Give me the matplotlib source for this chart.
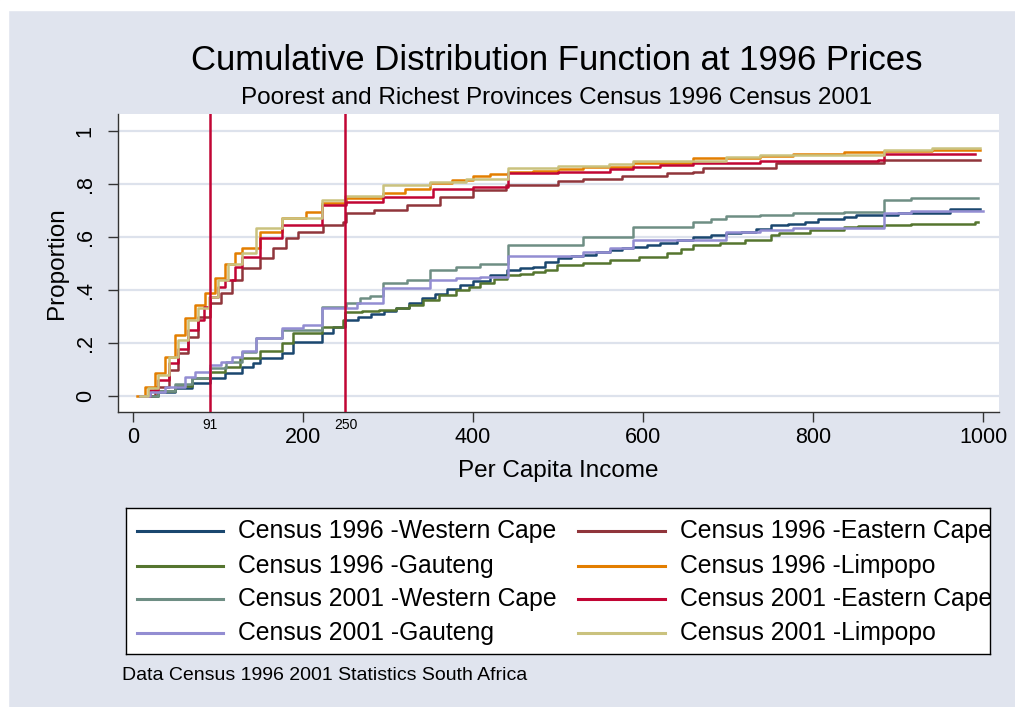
#!/usr/bin/env python3
"""
Cumulative distribution of per capita income (1996 prices),
poorest and richest provinces, census 1996 vs census 2001.
Writes out.png
"""

import matplotlib
matplotlib.use("Agg")
import matplotlib.pyplot as plt
import matplotlib.transforms as mtransforms
from matplotlib.patches import Rectangle

# step points (income, proportion)
wc96_x = [10, 30, 50, 70, 91, 108, 128, 141, 149, 175, 188, 222, 235, 250, 265, 280, 295, 310, 325, 340,
          355, 370, 385, 400, 420, 440, 455, 471, 485, 500, 515, 529, 545, 561, 575, 588, 605, 620, 640,
          659, 680, 698, 715, 733, 751, 770, 790, 806, 836, 850, 900, 961, 996]
wc96_y = [0, .015, .03, .05, .068, .087, .111, .124, .144, .163, .205, .237, .262, .287, .298, .31, .322, .333, .35, .37,
          .385, .405, .42, .435, .455, .476, .482, .488, .505, .52, .527, .532, .542, .551, .557, .563, .57, .576, .59,
          .601, .607, .614, .62, .629, .645, .65, .657, .666, .674, .683, .69, .704, .704]

ec96_x = [8, 26, 42, 53, 65, 77, 91, 104, 116, 128, 149, 165, 180, 194, 224, 247, 251, 283, 322, 361,
          400, 439, 500, 529, 575, 628, 659, 671, 757, 883, 996]
ec96_y = [0, .036, .099, .162, .224, .30, .35, .388, .438, .482, .52, .557, .595, .62, .645, .657, .689, .701, .72, .752,
          .777, .796, .812, .82, .83, .842, .846, .858, .877, .889, .889]

g96_x = [10, 30, 50, 70, 91, 108, 126, 150, 175, 188, 222, 247, 250, 270, 290, 310, 325, 341, 360, 380,
         395, 408, 425, 440, 455, 471, 485, 499, 530, 561, 595, 628, 645, 659, 690, 720, 751, 760, 796,
         836, 853, 883, 915, 990, 994]
g96_y = [0, .02, .04, .07, .093, .111, .144, .17, .2, .237, .262, .287, .318, .32, .325, .332, .345, .363, .38, .40,
         .41, .425, .44, .457, .462, .469, .475, .494, .503, .513, .526, .538, .555, .57, .578, .59, .607, .616, .626,
         .636, .641, .645, .649, .655, .655]

l96_x = [5, 14, 26, 38, 49, 61, 73, 85, 96, 108, 120, 128, 149, 175, 204, 222, 251, 294, 320, 349,
         375, 400, 420, 441, 471, 500, 529, 588, 659, 738, 777, 836, 883, 940, 996]
l96_y = [0, .036, .087, .149, .231, .294, .344, .388, .444, .50, .538, .557, .62, .67, .695, .727, .745, .764, .78, .802,
         .815, .83, .838, .846, .849, .855, .862, .877, .896, .905, .912, .921, .925, .927, .927]

wc01_x = [8, 30, 50, 70, 91, 110, 128, 145, 175, 222, 251, 267, 279, 294, 322, 349, 380, 408, 441,
          529, 588, 659, 680, 698, 738, 777, 836, 883, 915, 994]
wc01_y = [0, .02, .045, .07, .105, .13, .168, .218, .25, .337, .35, .369, .378, .425, .438, .476, .488, .498, .57,
          .601, .636, .657, .666, .679, .683, .689, .695, .739, .745, .745]

ec01_x = [8, 20, 30, 42, 53, 65, 77, 84, 91, 100, 108, 120, 128, 149, 175, 222, 251, 294, 353, 400,
          441, 500, 561, 588, 620, 659, 738, 876, 883, 990]
ec01_y = [0, .024, .061, .124, .18, .25, .287, .337, .375, .413, .438, .488, .526, .595, .645, .72, .733, .752, .779, .79,
          .84, .846, .855, .864, .871, .877, .886, .89, .911, .911]

g01_x = [8, 20, 38, 61, 73, 91, 104, 116, 128, 145, 175, 200, 222, 263, 294, 349, 380, 408, 441,
         529, 561, 588, 698, 738, 777, 883, 915, 1000]
g01_y = [0, .015, .036, .074, .093, .118, .13, .149, .17, .218, .257, .27, .331, .35, .407, .438, .444, .45, .53,
         .544, .557, .589, .62, .626, .632, .689, .699, .699]

l01_x = [8, 18, 30, 42, 53, 65, 77, 89, 100, 112, 128, 145, 175, 222, 250, 294, 349, 392, 441,
         500, 560, 588, 698, 738, 883, 940, 996]
l01_y = [0, .03, .08, .149, .212, .287, .331, .375, .438, .50, .538, .632, .67, .739, .754, .796, .808, .817, .858,
         .867, .875, .887, .902, .908, .927, .934, .934]

series_names = ["Census 1996 -Western Cape", "Census 1996 -Eastern Cape",
                "Census 1996 -Gauteng", "Census 1996 -Limpopo",
                "Census 2001 -Western Cape", "Census 2001 -Eastern Cape",
                "Census 2001 -Gauteng", "Census 2001 -Limpopo"]
series_x = [wc96_x, ec96_x, g96_x, l96_x, wc01_x, ec01_x, g01_x, l01_x]
series_y = [wc96_y, ec96_y, g96_y, l96_y, wc01_y, ec01_y, g01_y, l01_y]

xline_vals = [91, 250]
xtick_vals = [0, 200, 400, 600, 800, 1000]
ytick_vals = [0, .2, .4, .6, .8, 1]
ytick_labels = ["0", ".2", ".4", ".6", ".8", "1"]

# stata s2color palette
colors = ["#1a476f", "#90353b", "#55752f", "#e37e00",
          "#6e8e84", "#c10534", "#938dd2", "#cac27e"]
BG = "#e0e4ee"
W, H = 1015, 707


def main():
    plt.rcParams['font.family'] = ['Liberation Sans', 'DejaVu Sans']

    fig = plt.figure(figsize=(W / 100, H / 100), dpi=100, facecolor=BG)
    # thin white border at left / top like the exported graph
    fig.patches.append(Rectangle((0, 0), 8 / W, 1, transform=fig.transFigure,
                                 color="white", zorder=0))
    fig.patches.append(Rectangle((0, 1 - 10 / H), 1, 10 / H, transform=fig.transFigure,
                                 color="white", zorder=0))

    # plot region in pixels: x 118..999, y 114..412
    ax = fig.add_axes([118 / W, 1 - 412 / H, (999 - 118) / W, (412 - 114) / H])
    ax.set_facecolor("white")

    for xs, ys, c in zip(series_x, series_y, colors):
        ax.step(xs, ys, where="post", color=c, lw=1.8, zorder=3)

    for xv in xline_vals:
        ax.axvline(xv, color="#c10534", lw=1.8, zorder=4)

    ax.set_xlim(-17.6, 1018.8)
    ax.set_ylim(-0.059, 1.063)

    ax.set_xticks(xtick_vals)
    ax.set_xticklabels([str(v) for v in xtick_vals])
    ax.set_yticks(ytick_vals)
    ax.set_yticklabels(ytick_labels, rotation=90, va="center")
    ax.tick_params(axis="both", direction="out", length=7, width=1,
                   color="#333333", labelsize=15.5)
    ax.tick_params(axis="x", pad=4)
    ax.tick_params(axis="y", pad=9)

    ax.yaxis.grid(True, color="#dde2ec", lw=1.6)
    ax.set_axisbelow(True)

    for s in ["top", "right"]:
        ax.spines[s].set_visible(False)
    for s in ["left", "bottom"]:
        ax.spines[s].set_color("#333333")
        ax.spines[s].set_linewidth(1)

    # small labels for the two reference lines
    trans = mtransforms.blended_transform_factory(ax.transData, ax.transAxes)
    for xv in xline_vals:
        ax.text(xv, -0.044, str(xv), transform=trans, ha="center", va="center",
                fontsize=10)

    ax.set_xlabel("Per Capita Income", fontsize=17.5)
    ax.xaxis.label.set_va("center")
    ax.xaxis.set_label_coords(0.5, (412 - 471) / 298)
    ax.set_ylabel("Proportion", fontsize=17.5)
    ax.yaxis.label.set_va("center")
    ax.yaxis.set_label_coords((57 - 118) / 881, 0.5)

    fig.text(557 / W, 1 - 61 / H, "Cumulative Distribution Function at 1996 Prices",
             ha="center", va="center", fontsize=25)
    fig.text(557 / W, 1 - 98 / H, "Poorest and Richest Provinces Census 1996 Census 2001",
             ha="center", va="center", fontsize=17.5)

    # legend box drawn by hand (pixel coords), text is clipped at the border
    lx0, lx1, ly0, ly1 = 126, 990, 508, 654
    lax = fig.add_axes([lx0 / W, 1 - ly1 / H, (lx1 - lx0) / W, (ly1 - ly0) / H])
    lax.set_xlim(lx0, lx1)
    lax.set_ylim(ly1, ly0)
    lax.set_xticks([])
    lax.set_yticks([])
    lax.set_facecolor("white")
    for s in lax.spines.values():
        s.set_color("black")
        s.set_linewidth(1)
    row_y = [531, 566, 599, 633]
    line_x = [(137, 223), (578, 665)]
    text_x = [238, 680]
    for i, (name, c) in enumerate(zip(series_names, colors)):
        col, row = i % 2, i // 2
        lax.plot(line_x[col], [row_y[row]] * 2, color=c, lw=2.2)
        lax.text(text_x[col], row_y[row], name, va="center", ha="left",
                 fontsize=17.8, clip_on=True)

    fig.text(122 / W, 1 - 676 / H, "Data Census 1996 2001 Statistics South Africa",
             ha="left", va="center", fontsize=14)

    fig.savefig("out.png", dpi=100, facecolor=BG)


if __name__ == "__main__":
    main()
